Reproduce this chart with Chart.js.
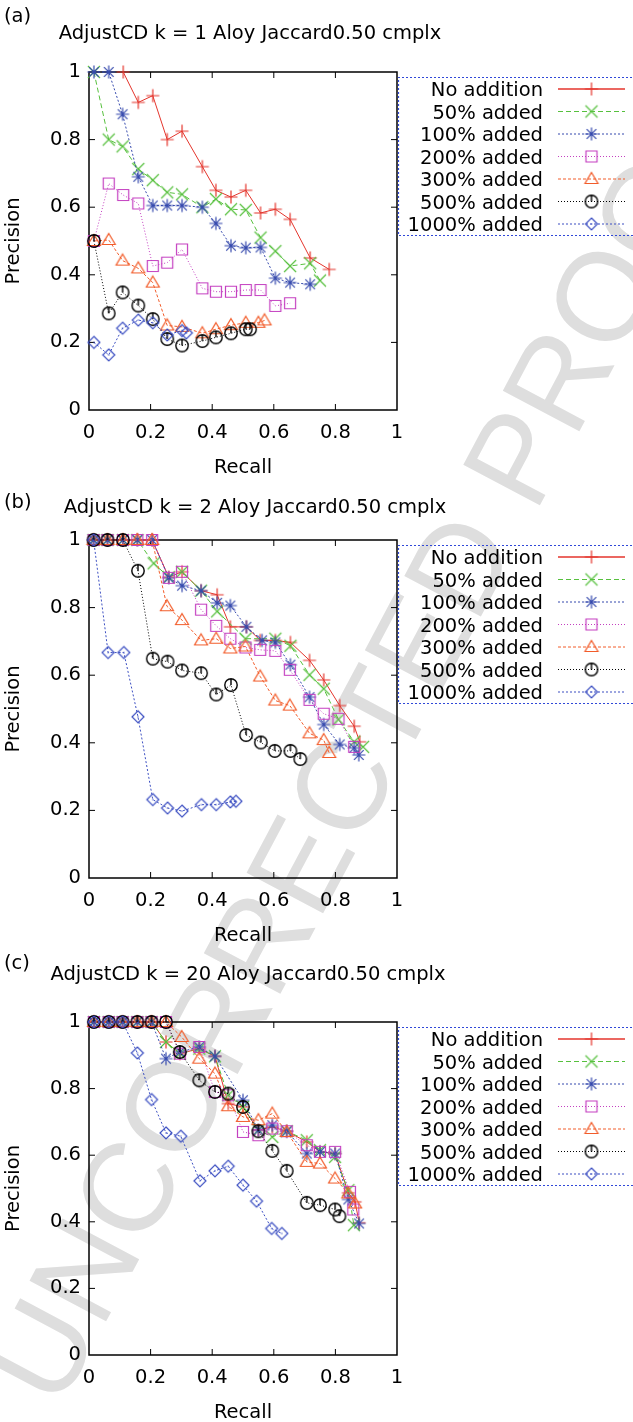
<!DOCTYPE html>
<html>
<head>
<meta charset="utf-8">
<script src="https://cdn.jsdelivr.net/npm/chart.js@4.4.1/dist/chart.umd.min.js"></script>
<style>
  html, body { margin: 0; padding: 0; background: #fff; }
  body { width: 633px; height: 1422px; position: relative; overflow: hidden; }
  canvas { position: absolute; left: 0; }
</style>
</head>
<body>
<canvas id="mark" width="633" height="1422" style="top:0"></canvas>
<canvas id="chartA"></canvas>
<canvas id="chartB"></canvas>
<canvas id="chartC"></canvas>
<script>
// series shared by the three panels
const seriesNames = ['No addition', '50% added', '100% added', '200% added', '300% added', '500% added', '1000% added'];
const tickValues = [0, 0.2, 0.4, 0.6, 0.8, 1];

// (a) k = 1  -- [recall, precision]
const a_none = [[0.111,1.0],[0.16,0.91],[0.207,0.93],[0.254,0.80],[0.302,0.825],[0.368,0.72],[0.412,0.65],[0.461,0.63],[0.509,0.65],[0.557,0.583],[0.605,0.594],[0.653,0.564],[0.718,0.45],[0.78,0.416]];
const a_add50 = [[0.016,1.0],[0.064,0.80],[0.109,0.78],[0.16,0.713],[0.207,0.68],[0.254,0.644],[0.302,0.638],[0.368,0.60],[0.412,0.624],[0.461,0.594],[0.509,0.592],[0.557,0.51],[0.605,0.47],[0.653,0.426],[0.718,0.434],[0.75,0.383]];
const a_add100 = [[0.016,1.0],[0.064,1.0],[0.109,0.875],[0.16,0.69],[0.207,0.605],[0.254,0.605],[0.302,0.605],[0.368,0.60],[0.412,0.552],[0.461,0.486],[0.509,0.48],[0.557,0.481],[0.605,0.39],[0.653,0.377],[0.718,0.372]];
const a_add200 = [[0.016,0.50],[0.064,0.67],[0.111,0.636],[0.16,0.611],[0.207,0.426],[0.254,0.436],[0.302,0.475],[0.368,0.36],[0.412,0.35],[0.461,0.35],[0.509,0.355],[0.557,0.355],[0.605,0.308],[0.653,0.316]];
const a_add300 = [[0.016,0.50],[0.064,0.503],[0.109,0.442],[0.16,0.419],[0.207,0.377],[0.254,0.25],[0.302,0.246],[0.368,0.227],[0.412,0.239],[0.461,0.251],[0.509,0.258],[0.55,0.258],[0.57,0.265]];
const a_add500 = [[0.016,0.50],[0.064,0.286],[0.109,0.348],[0.16,0.309],[0.207,0.269],[0.254,0.21],[0.302,0.191],[0.368,0.204],[0.412,0.215],[0.461,0.227],[0.509,0.239],[0.523,0.239]];
const a_add1000 = [[0.016,0.20],[0.064,0.163],[0.109,0.242],[0.16,0.266],[0.207,0.258],[0.254,0.222],[0.302,0.235],[0.316,0.228]];

// (b) k = 2
const b_none = [[0.015,1],[0.06,1],[0.11,1],[0.157,1],[0.205,1],[0.259,0.89],[0.302,0.906],[0.364,0.85],[0.416,0.838],[0.459,0.743],[0.511,0.743],[0.556,0.703],[0.605,0.703],[0.654,0.697],[0.716,0.644],[0.762,0.586],[0.814,0.51],[0.861,0.449],[0.879,0.403]];
const b_add50 = [[0.015,1],[0.06,1],[0.11,1],[0.157,1],[0.21,0.931],[0.259,0.89],[0.302,0.906],[0.364,0.85],[0.416,0.789],[0.508,0.708],[0.605,0.708],[0.654,0.687],[0.716,0.601],[0.762,0.56],[0.81,0.469],[0.861,0.403],[0.89,0.388]];
const b_add100 = [[0.015,1],[0.06,1],[0.11,1],[0.157,1],[0.205,1],[0.259,0.888],[0.302,0.865],[0.364,0.85],[0.416,0.814],[0.459,0.806],[0.511,0.743],[0.562,0.703],[0.605,0.697],[0.654,0.631],[0.716,0.535],[0.762,0.454],[0.814,0.395],[0.861,0.385],[0.876,0.364]];
const b_add200 = [[0.015,1],[0.06,1],[0.11,1],[0.157,1],[0.205,1],[0.259,0.888],[0.302,0.906],[0.364,0.794],[0.413,0.746],[0.459,0.708],[0.508,0.682],[0.556,0.675],[0.605,0.672],[0.652,0.616],[0.716,0.527],[0.762,0.486],[0.81,0.471],[0.861,0.388]];
const b_add300 = [[0.015,1],[0.06,1],[0.11,1],[0.157,1],[0.205,1],[0.253,0.804],[0.302,0.763],[0.364,0.703],[0.413,0.708],[0.459,0.679],[0.508,0.685],[0.556,0.596],[0.605,0.525],[0.652,0.51],[0.716,0.428],[0.762,0.408],[0.78,0.37]];
const b_add500 = [[0.015,1],[0.06,1],[0.11,1],[0.159,0.909],[0.207,0.649],[0.255,0.64],[0.302,0.614],[0.364,0.606],[0.413,0.543],[0.461,0.571],[0.51,0.423],[0.558,0.401],[0.603,0.376],[0.654,0.376],[0.686,0.352]];
const b_add1000 = [[0.015,1],[0.062,0.667],[0.113,0.667],[0.159,0.477],[0.207,0.232],[0.255,0.207],[0.302,0.198],[0.365,0.217],[0.413,0.217],[0.459,0.225],[0.477,0.227]];

// (c) k = 20
const c_none = [[0.016,1],[0.064,1],[0.109,1],[0.157,1],[0.203,1],[0.25,0.94],[0.295,0.905],[0.358,0.92],[0.409,0.897],[0.452,0.755],[0.50,0.745],[0.55,0.675],[0.595,0.685],[0.642,0.672],[0.707,0.64],[0.75,0.61],[0.799,0.605],[0.842,0.487],[0.864,0.46],[0.877,0.397]];
const c_add50 = [[0.016,1],[0.064,1],[0.109,1],[0.157,1],[0.203,1],[0.25,0.94],[0.295,0.905],[0.358,0.92],[0.409,0.897],[0.452,0.78],[0.50,0.745],[0.55,0.675],[0.595,0.655],[0.642,0.672],[0.707,0.645],[0.75,0.615],[0.799,0.595],[0.842,0.495],[0.86,0.39]];
const c_add100 = [[0.016,1],[0.064,1],[0.109,1],[0.157,1],[0.203,1],[0.25,0.89],[0.295,0.91],[0.358,0.925],[0.409,0.897],[0.50,0.765],[0.55,0.675],[0.595,0.69],[0.642,0.672],[0.707,0.605],[0.75,0.61],[0.799,0.605],[0.842,0.467],[0.877,0.395]];
const c_add200 = [[0.016,1],[0.064,1],[0.109,1],[0.157,1],[0.203,1],[0.25,1],[0.295,0.905],[0.358,0.925],[0.409,0.79],[0.452,0.78],[0.50,0.67],[0.55,0.66],[0.595,0.68],[0.642,0.672],[0.707,0.63],[0.75,0.61],[0.799,0.61],[0.847,0.49],[0.858,0.437]];
const c_add300 = [[0.016,1],[0.064,1],[0.109,1],[0.157,1],[0.203,1],[0.25,1],[0.301,0.955],[0.358,0.89],[0.409,0.845],[0.452,0.747],[0.50,0.715],[0.55,0.705],[0.595,0.725],[0.642,0.67],[0.707,0.58],[0.75,0.575],[0.799,0.53],[0.842,0.485],[0.864,0.455]];
const c_add500 = [[0.016,1],[0.064,1],[0.109,1],[0.157,1],[0.203,1],[0.25,1],[0.295,0.91],[0.358,0.825],[0.409,0.79],[0.452,0.785],[0.50,0.745],[0.55,0.672],[0.595,0.613],[0.642,0.553],[0.707,0.457],[0.75,0.45],[0.799,0.437],[0.813,0.417]];
const c_add1000 = [[0.016,1],[0.064,1],[0.109,1],[0.157,0.907],[0.203,0.767],[0.25,0.667],[0.298,0.657],[0.36,0.523],[0.409,0.553],[0.452,0.567],[0.50,0.51],[0.544,0.462],[0.593,0.38],[0.626,0.365]];

// look of each series (gnuplot-ish)
const seriesColors = ['#e4352c', '#57c03e', '#3549ad', '#c43fc0', '#f25c2a', '#000000', '#3c4fc2'];
const seriesDash = [[], [5, 3], [2, 2], [1, 2], [3, 2], [1, 2], [2, 2]];
const seriesMarks = ['plus', 'cross', 'star', 'square', 'triangle', 'clock', 'diamond'];

const FONT = 'DejaVu Sans';
const FSIZE = 19.5;

function makeMark(kind, color) {
  const c = document.createElement('canvas');
  c.width = c.height = 18;
  const g = c.getContext('2d');
  const m = 9;
  g.strokeStyle = color;
  g.fillStyle = color;
  g.lineWidth = kind === 'clock' ? 1.4 : 1.2;
  g.beginPath();
  if (kind === 'plus' || kind === 'star') {
    g.moveTo(m - 6.5, m); g.lineTo(m + 6.5, m);
    g.moveTo(m, m - 6.5); g.lineTo(m, m + 6.5);
  }
  if (kind === 'cross' || kind === 'star') {
    const d = kind === 'star' ? 4.8 : 6;
    g.moveTo(m - d, m - d); g.lineTo(m + d, m + d);
    g.moveTo(m - d, m + d); g.lineTo(m + d, m - d);
  }
  if (kind === 'square') g.rect(m - 5.5, m - 5.5, 11, 11);
  if (kind === 'triangle') {
    g.moveTo(m, m - 6.5); g.lineTo(m + 6.5, m + 4.5); g.lineTo(m - 6.5, m + 4.5); g.closePath();
  }
  if (kind === 'clock') {
    g.arc(m, m, 6.2, 0, Math.PI * 2);
    g.moveTo(m, m - 6.2); g.lineTo(m, m);
  }
  if (kind === 'diamond') {
    g.moveTo(m, m - 6); g.lineTo(m + 6, m); g.lineTo(m, m + 6); g.lineTo(m - 6, m); g.closePath();
    g.fillRect(m - 0.6, m - 0.6, 1.2, 1.2);
  }
  g.stroke();
  return c;
}
const markImgs = seriesMarks.map((k, i) => makeMark(k, seriesColors[i]));

// frame, inward ticks, header text and legend box
const framePlugin = {
  id: 'frame',
  beforeDatasetsDraw(chart) {
    const { ctx, chartArea: a, scales } = chart;
    ctx.save();
    ctx.strokeStyle = '#000';
    ctx.lineWidth = 1.5;
    ctx.strokeRect(a.left, a.top, a.right - a.left, a.bottom - a.top);
    ctx.lineWidth = 1;
    ctx.beginPath();
    tickValues.slice(1, -1).forEach(v => {
      const px = scales.x.getPixelForValue(v);
      const py = scales.y.getPixelForValue(v);
      ctx.moveTo(px, a.bottom); ctx.lineTo(px, a.bottom - 6);
      ctx.moveTo(px, a.top); ctx.lineTo(px, a.top + 6);
      ctx.moveTo(a.left, py); ctx.lineTo(a.left + 6, py);
      ctx.moveTo(a.right, py); ctx.lineTo(a.right - 6, py);
    });
    ctx.stroke();
    ctx.restore();
  },
  afterDraw(chart, args, opts) {
    const { ctx, chartArea: a } = chart;
    ctx.save();
    ctx.fillStyle = '#000';
    ctx.font = FSIZE + 'px "' + FONT + '"';
    ctx.textBaseline = 'alphabetic';
    ctx.textAlign = 'left';
    ctx.fillText(opts.label, 4, opts.labelY);
    ctx.textAlign = 'center';
    ctx.fillText(opts.title, opts.titleX, opts.titleY);

    // legend
    const top = a.top;
    ctx.strokeStyle = '#3048d8';
    ctx.lineWidth = 1.2;
    ctx.setLineDash([2, 2]);
    ctx.beginPath();
    ctx.moveTo(640, top + 5.5); ctx.lineTo(398.5, top + 5.5);
    ctx.lineTo(398.5, top + 163.5); ctx.lineTo(640, top + 163.5);
    ctx.stroke();
    chart.data.datasets.forEach((ds, i) => {
      const y = top + 17 + i * 22.5;
      ctx.setLineDash([]);
      ctx.textAlign = 'right';
      ctx.fillText(ds.label, 543, y + 7);
      ctx.strokeStyle = ds.borderColor;
      ctx.lineWidth = i === 0 ? 1.5 : 1;
      ctx.setLineDash(ds.borderDash);
      ctx.beginPath();
      ctx.moveTo(558, y); ctx.lineTo(625, y);
      ctx.stroke();
      ctx.drawImage(ds.pointStyle, 591.5 - 9, y - 9);
    });
    ctx.restore();
  }
};

const panels = [
  { id: 'chartA', label: '(a)', title: 'AdjustCD k = 1 Aloy Jaccard0.50 cmplx', top: 0, plotH: 338,
    labelY: 22, titleY: 39, titleX: 250, series: [a_none, a_add50, a_add100, a_add200, a_add300, a_add500, a_add1000] },
  { id: 'chartB', label: '(b)', title: 'AdjustCD k = 2 Aloy Jaccard0.50 cmplx', top: 468, plotH: 338,
    labelY: 40, titleY: 45, titleX: 255, series: [b_none, b_add50, b_add100, b_add200, b_add300, b_add500, b_add1000] },
  { id: 'chartC', label: '(c)', title: 'AdjustCD k = 20 Aloy Jaccard0.50 cmplx', top: 950, plotH: 333,
    labelY: 19, titleY: 30, titleX: 248, series: [c_none, c_add50, c_add100, c_add200, c_add300, c_add500, c_add1000] }
];

Chart.defaults.font.family = FONT;
Chart.defaults.font.size = FSIZE;
Chart.defaults.color = '#000';

const axisFont = { family: FONT, size: FSIZE };
const fmt = v => String(Math.round(v * 10) / 10);

panels.forEach(p => {
  const cv = document.getElementById(p.id);
  cv.width = 633;
  cv.height = 72 + p.plotH + 70;
  cv.style.top = p.top + 'px';

  new Chart(cv, {
    type: 'scatter',
    data: {
      datasets: p.series.map((pts, i) => ({
        label: seriesNames[i],
        data: pts,
        showLine: true,
        borderColor: seriesColors[i],
        backgroundColor: seriesColors[i],
        borderWidth: 1,
        borderDash: seriesDash[i],
        pointStyle: markImgs[i],
        pointRadius: 6,
        pointHoverRadius: 6,
        tension: 0,
        clip: false,
        order: 6 - i
      }))
    },
    options: {
      responsive: false,
      animation: false,
      devicePixelRatio: 1,
      events: [],
      layout: { padding: { top: 72, right: 236, bottom: 0, left: 0 } },
      plugins: {
        legend: { display: false },
        tooltip: { enabled: false },
        frame: { label: p.label, title: p.title, titleX: p.titleX, titleY: p.titleY, labelY: p.labelY }
      },
      scales: {
        x: {
          type: 'linear', min: 0, max: 1,
          ticks: { stepSize: 0.2, padding: 11, font: axisFont, color: '#000', maxRotation: 0, callback: fmt },
          grid: { display: false, drawTicks: false },
          border: { display: false },
          title: { display: true, text: 'Recall', font: axisFont, color: '#000', padding: 0 },
          afterFit: s => { s.height = 70; }
        },
        y: {
          type: 'linear', min: 0, max: 1,
          ticks: { stepSize: 0.2, padding: 8, font: axisFont, color: '#000', callback: fmt },
          grid: { display: false, drawTicks: false },
          border: { display: false },
          title: { display: true, text: 'Precision', font: axisFont, color: '#000', padding: { top: 2, bottom: 0 } },
          afterFit: s => { s.width = 89; }
        }
      }
    },
    plugins: [framePlugin]
  });
});

// proof watermark behind the charts
const wm = document.getElementById('mark').getContext('2d');
wm.save();
wm.translate(58.6, 1410.8);
wm.rotate(-62 * Math.PI / 180);
wm.font = '126px "Liberation Sans"';
wm.fillStyle = '#dedede';
wm.fillText('UNCORRECTED PROOF', 0, 0);
wm.restore();
</script>
</body>
</html>
